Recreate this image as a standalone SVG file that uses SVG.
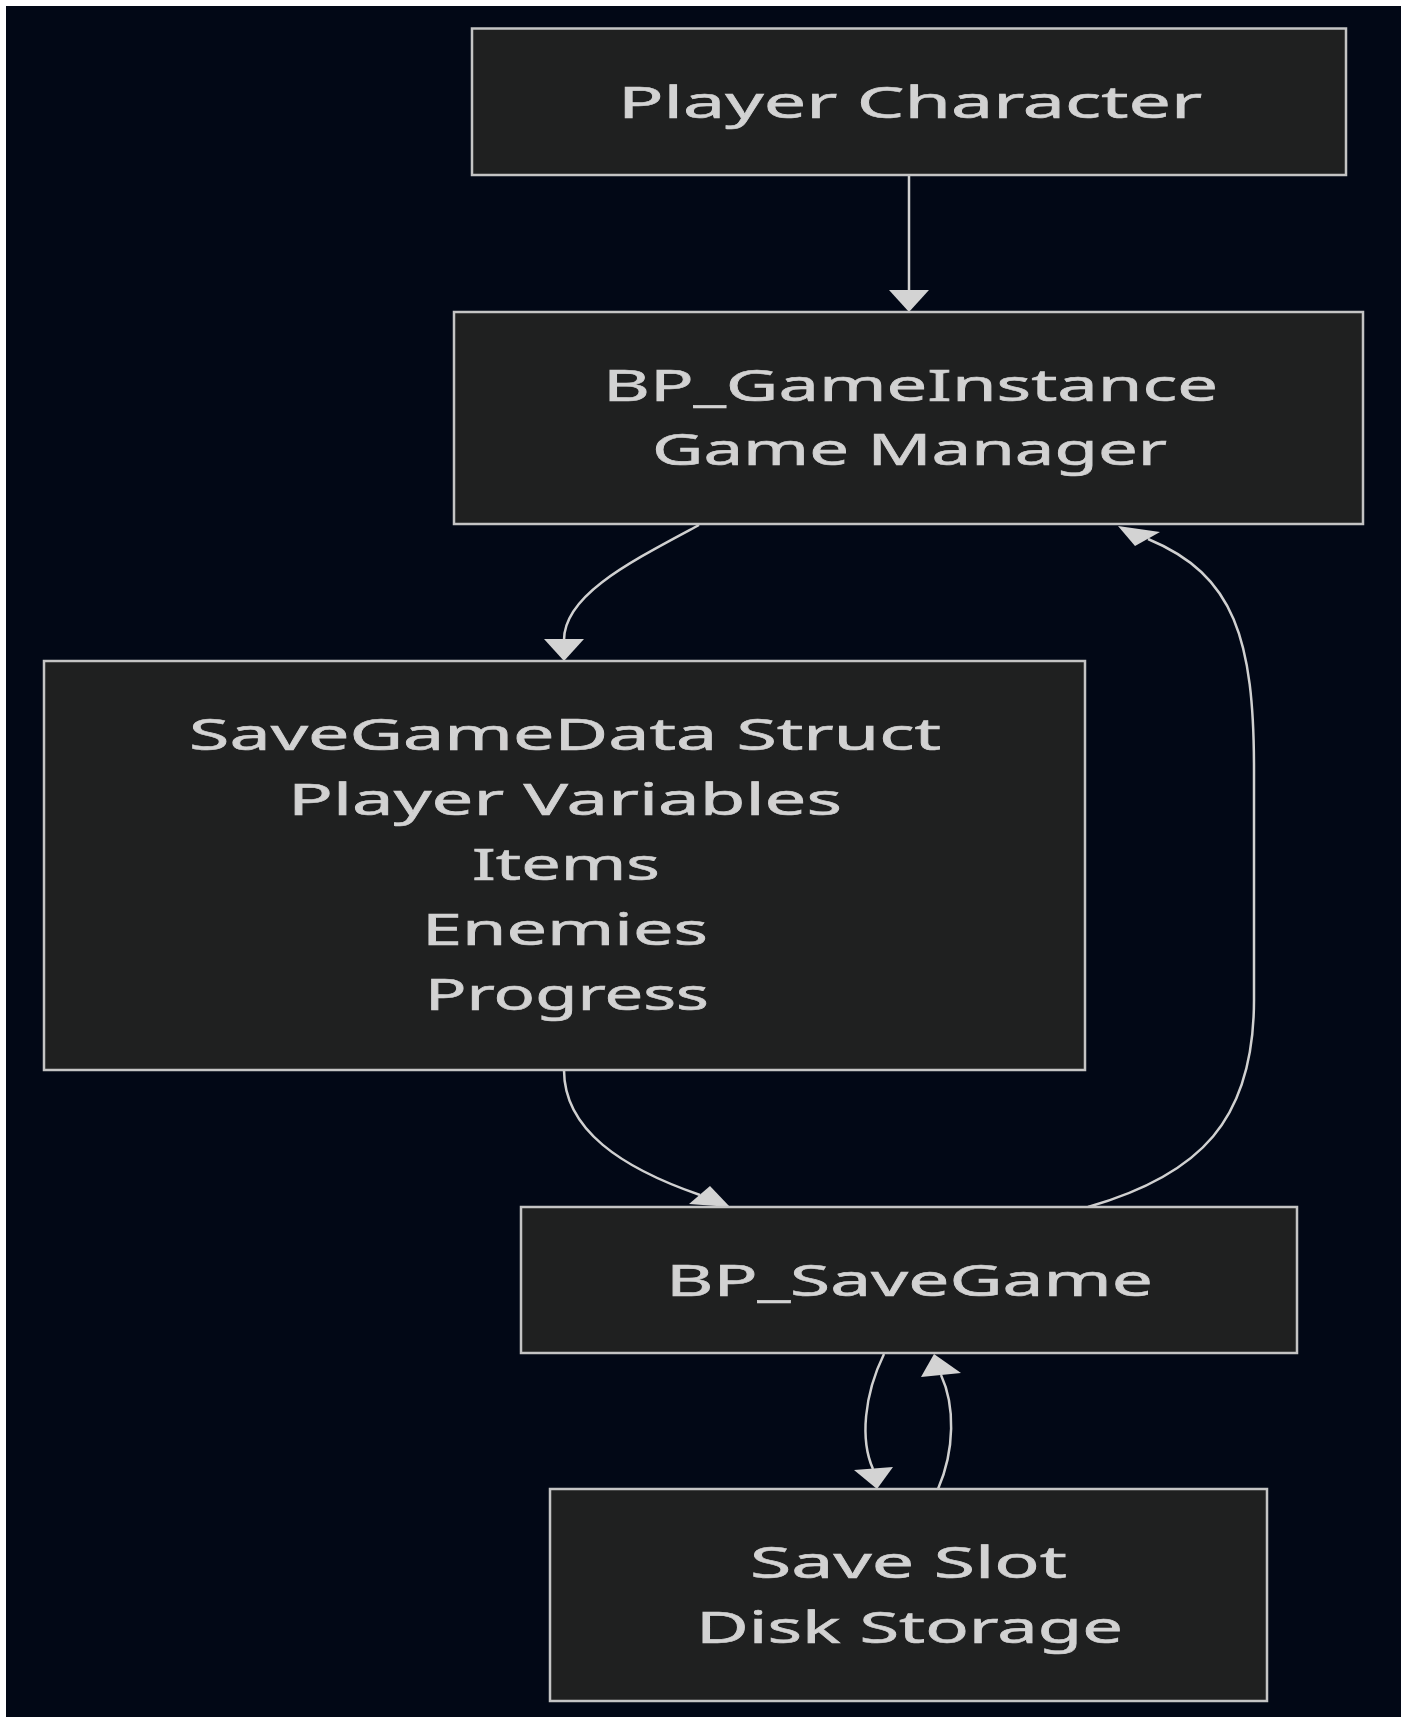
<svg xmlns="http://www.w3.org/2000/svg" width="1407" height="1717" viewBox="0 0 1407 1717">
  <style>
    .node rect { fill: #1f2020; stroke: #c4c4c4; stroke-width: 2.5; }
    .node text { fill: #d2d2d2; stroke: #d2d2d2; stroke-width: 0.6; font-family: "Noto Sans", "DejaVu Sans", sans-serif; font-size: 43px; }
    .edge { fill: none; stroke: #d0d0d0; stroke-width: 2.5; }
    .head { fill: #d3d3d3; stroke: none; }
  </style>

  <!-- page frame and canvas -->
  <rect x="0" y="0" width="1407" height="1717" fill="#ffffff"/>
  <rect x="6" y="6" width="1395" height="1711" fill="#020816"/>

  <g id="connectors">
    <!-- Player Character -> BP_GameInstance -->
    <path class="edge" d="M909,175 L909,292"/>
    <polygon class="head" points="889,290 929,290 909,312"/>

    <!-- BP_GameInstance -> SaveGameData -->
    <path class="edge" d="M699,525 C630,562 564,595 564,640"/>
    <polygon class="head" points="544,639 584,639 564,661"/>

    <!-- SaveGameData -> BP_SaveGame -->
    <path class="edge" d="M564,1070 C564,1130 622,1168 700,1195"/>
    <polygon class="head" points="689,1204 710,1186 730,1207"/>

    <!-- BP_SaveGame -> BP_GameInstance (return loop) -->
    <path class="edge" d="M1088,1207 C1200,1175 1254,1120 1254,1000 L1254,770 C1254,640 1235,575 1148,539"/>
    <polygon class="head" points="1118,526 1135,546 1160,532"/>

    <!-- BP_SaveGame -> Save Slot -->
    <path class="edge" d="M884,1354 C864,1395 860,1440 873,1469"/>
    <polygon class="head" points="854,1470 893,1467 877,1489"/>

    <!-- Save Slot -> BP_SaveGame -->
    <path class="edge" d="M938,1489 C955,1450 955,1405 941,1375"/>
    <polygon class="head" points="921,1377 961,1373 934,1354"/>
  </g>

  <g id="player-character" class="node">
    <rect x="472" y="28.5" width="874" height="146.5"/>
    <text x="618" y="118" textLength="584" lengthAdjust="spacingAndGlyphs">Player Character</text>
  </g>

  <g id="bp-gameinstance" class="node">
    <rect x="454" y="312" width="909" height="212"/>
    <text x="603" y="401" textLength="615" lengthAdjust="spacingAndGlyphs">BP_GameInstance</text>
    <text x="652" y="465" textLength="515" lengthAdjust="spacingAndGlyphs">Game Manager</text>
  </g>

  <g id="savegamedata-struct" class="node">
    <rect x="44" y="661" width="1041" height="409"/>
    <text x="189" y="750" textLength="752" lengthAdjust="spacingAndGlyphs">SaveGameData Struct</text>
    <text x="288" y="815" textLength="554" lengthAdjust="spacingAndGlyphs">Player Variables</text>
    <text x="472" y="880" textLength="188" lengthAdjust="spacingAndGlyphs">Items</text>
    <text x="422" y="945" textLength="286" lengthAdjust="spacingAndGlyphs">Enemies</text>
    <text x="425" y="1010" textLength="284" lengthAdjust="spacingAndGlyphs">Progress</text>
  </g>

  <g id="bp-savegame" class="node">
    <rect x="521" y="1207" width="776" height="146"/>
    <text x="666" y="1296" textLength="487" lengthAdjust="spacingAndGlyphs">BP_SaveGame</text>
  </g>

  <g id="save-slot" class="node">
    <rect x="550" y="1489" width="717" height="212"/>
    <text x="750" y="1578" textLength="317" lengthAdjust="spacingAndGlyphs">Save Slot</text>
    <text x="696" y="1643" textLength="427" lengthAdjust="spacingAndGlyphs">Disk Storage</text>
  </g>
</svg>
